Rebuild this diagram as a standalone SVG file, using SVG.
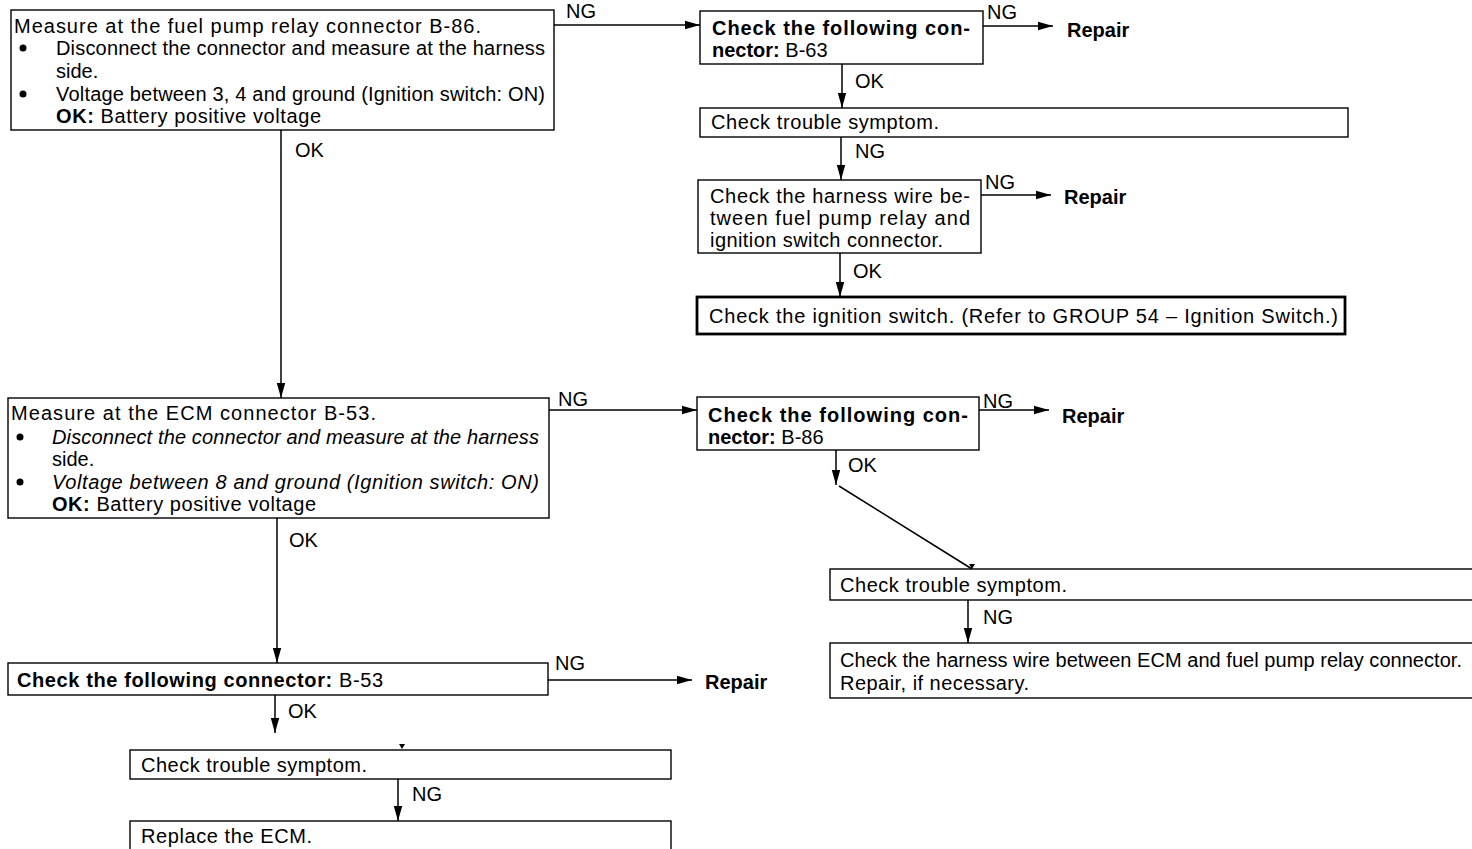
<svg xmlns="http://www.w3.org/2000/svg" width="1472" height="849" viewBox="0 0 1472 849">
<style>
  .box { fill: #ffffff; stroke: #000; stroke-width: 1.4; }
  .thick { stroke-width: 2.8; }
  text { font-family: "Liberation Sans", Arial, sans-serif; font-size: 20px; fill: #000; }
  .b { font-weight: bold; }
  .i { font-style: italic; }
  .con line, .con polyline { stroke: #000; stroke-width: 1.5; fill: none; }
  .arr { marker-end: url(#ah); }
</style>
<defs>
  <marker id="ah" markerUnits="userSpaceOnUse" markerWidth="16" markerHeight="10" refX="15" refY="5" orient="auto">
    <path d="M0,0.8 L15,5 L0,9.2 z" fill="#000"/>
  </marker>
</defs>
<rect width="1472" height="849" fill="#ffffff"/>

<g id="connectors" class="con">
  <line class="arr" x1="554" y1="25" x2="700" y2="25"/>
  <line class="arr" x1="983" y1="26" x2="1053" y2="26"/>
  <line class="arr" x1="842" y1="64" x2="842" y2="108"/>
  <line class="arr" x1="841" y1="137" x2="841" y2="180"/>
  <line class="arr" x1="981" y1="195" x2="1051" y2="195"/>
  <line class="arr" x1="840" y1="253" x2="840" y2="297"/>
  <line class="arr" x1="281" y1="130" x2="281" y2="398"/>
  <line class="arr" x1="549" y1="410" x2="697" y2="410"/>
  <line class="arr" x1="979" y1="410" x2="1049" y2="410"/>
  <line class="arr" x1="836" y1="450" x2="836" y2="485"/>
  <line x1="839" y1="486" x2="972" y2="569"/>
  <path d="M969,564 L975,564 L972,569 z" fill="#000"/>
  <line class="arr" x1="968" y1="600" x2="968" y2="643"/>
  <line class="arr" x1="277" y1="518" x2="277" y2="663"/>
  <line class="arr" x1="548" y1="680" x2="692" y2="680"/>
  <line class="arr" x1="275" y1="695" x2="275" y2="733"/>
  <path d="M399,744 L405,744 L402,749 z" fill="#000"/>
  <line class="arr" x1="398" y1="779" x2="398" y2="821"/>
  <text x="566" y="18">NG</text>
  <text x="987" y="19">NG</text>
  <text x="855" y="88">OK</text>
  <text x="855" y="158">NG</text>
  <text x="985" y="189">NG</text>
  <text x="853" y="278">OK</text>
  <text x="295" y="157">OK</text>
  <text x="558" y="406">NG</text>
  <text x="983" y="408">NG</text>
  <text x="848" y="472">OK</text>
  <text x="983" y="624">NG</text>
  <text x="289" y="547">OK</text>
  <text x="555" y="670">NG</text>
  <text x="288" y="718">OK</text>
  <text x="412" y="801">NG</text>
</g>

<g id="n1">
  <rect class="box" x="11" y="10" width="543" height="120"/>
  <text x="14" y="33" textLength="467">Measure at the fuel pump relay connector B-86.</text>
  <circle cx="23" cy="48" r="3.5"/>
  <text x="56" y="55" textLength="489">Disconnect the connector and measure at the harness</text>
  <text x="56" y="78">side.</text>
  <circle cx="23" cy="94" r="3.5"/>
  <text x="56" y="101" textLength="489">Voltage between 3, 4 and ground (Ignition switch: ON)</text>
  <text x="56" y="123" textLength="265"><tspan class="b">OK:</tspan> Battery positive voltage</text>
</g>

<g id="n2">
  <rect class="box" x="700" y="11" width="283" height="53"/>
  <text class="b" x="712" y="35" textLength="258">Check the following con-</text>
  <text x="712" y="57"><tspan class="b">nector:</tspan> B-63</text>
</g>
<text class="b" x="1067" y="37">Repair</text>

<g id="n3">
  <rect class="box" x="700" y="108" width="648" height="29"/>
  <text x="711" y="129" textLength="228">Check trouble symptom.</text>
</g>

<g id="n4">
  <rect class="box" x="698" y="180" width="283" height="73"/>
  <text x="710" y="203" textLength="260">Check the harness wire be-</text>
  <text x="710" y="225" textLength="260">tween fuel pump relay and</text>
  <text x="710" y="247" textLength="233">ignition switch connector.</text>
</g>
<text class="b" x="1064" y="204">Repair</text>

<g id="n5">
  <rect class="box thick" x="697" y="297" width="648" height="37"/>
  <text x="709" y="323" textLength="629">Check the ignition switch. (Refer to GROUP 54 – Ignition Switch.)</text>
</g>

<g id="n6">
  <rect class="box" x="8" y="398" width="541" height="120"/>
  <text x="11" y="420" textLength="365">Measure at the ECM connector B-53.</text>
  <circle cx="20" cy="437" r="3.5"/>
  <text class="i" x="52" y="444" textLength="487">Disconnect the connector and measure at the harness</text>
  <text x="52" y="466">side.</text>
  <circle cx="20" cy="482" r="3.5"/>
  <text class="i" x="52" y="489" textLength="487">Voltage between 8 and ground (Ignition switch: ON)</text>
  <text x="52" y="511" textLength="264"><tspan class="b">OK:</tspan> Battery positive voltage</text>
</g>

<g id="n7">
  <rect class="box" x="697" y="397" width="282" height="53"/>
  <text class="b" x="708" y="422" textLength="260">Check the following con-</text>
  <text x="708" y="444"><tspan class="b">nector:</tspan> B-86</text>
</g>
<text class="b" x="1062" y="423">Repair</text>

<g id="n8">
  <rect class="box" x="830" y="569" width="660" height="31"/>
  <text x="840" y="592" textLength="227">Check trouble symptom.</text>
</g>

<g id="n9">
  <rect class="box" x="830" y="643" width="660" height="55"/>
  <text x="840" y="667" textLength="622">Check the harness wire between ECM and fuel pump relay connector.</text>
  <text x="840" y="690" textLength="189">Repair, if necessary.</text>
</g>

<g id="n10">
  <rect class="box" x="8" y="663" width="540" height="32"/>
  <text x="17" y="687" textLength="366"><tspan class="b">Check the following connector:</tspan> B-53</text>
</g>
<text class="b" x="705" y="689">Repair</text>

<g id="n11">
  <rect class="box" x="130" y="750" width="541" height="29"/>
  <text x="141" y="772" textLength="226">Check trouble symptom.</text>
</g>

<g id="n12">
  <rect class="box" x="130" y="821" width="541" height="40"/>
  <text x="141" y="843" textLength="171">Replace the ECM.</text>
</g>
</svg>
